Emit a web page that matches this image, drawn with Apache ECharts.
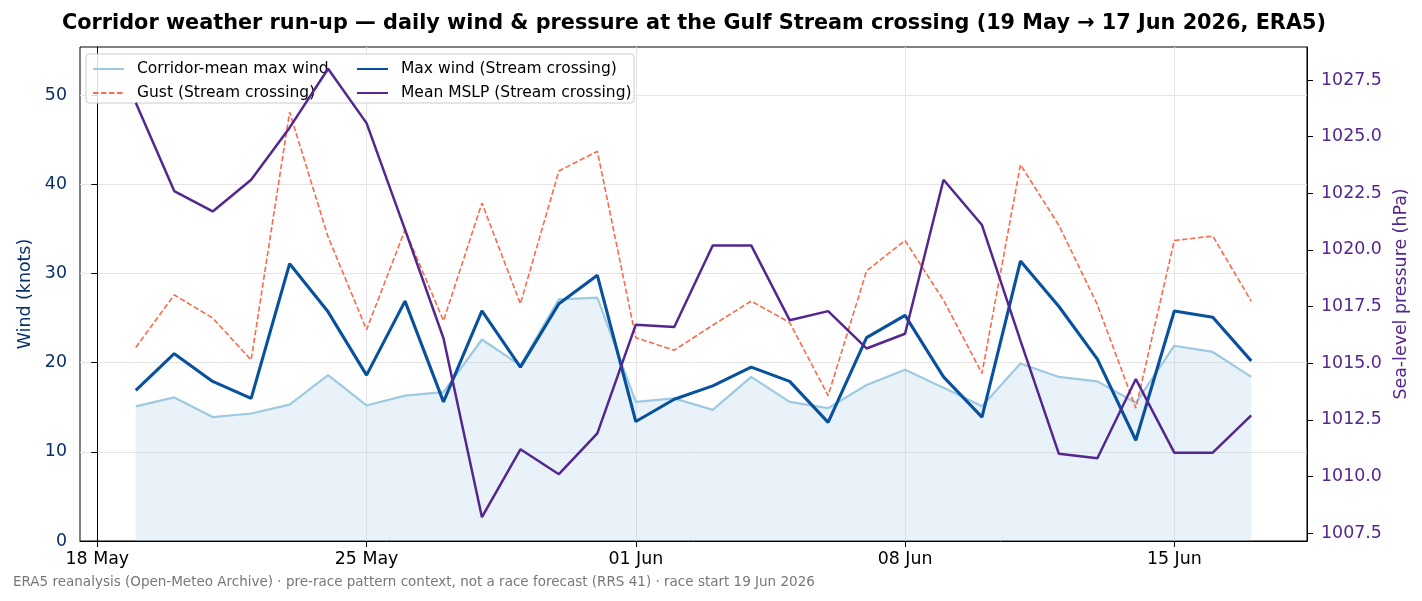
<!DOCTYPE html>
<html>
<head>
<meta charset="utf-8">
<script src="https://cdn.jsdelivr.net/npm/echarts@6/dist/echarts.min.js"></script>
<style>
  html, body { margin: 0; padding: 0; background: #fff; }
  #chart { width: 1422px; height: 601px; }
</style>
</head>
<body>
<div id="chart"></div>
<script>
// daily values, 19 May -> 17 Jun 2026
var dates = ['2026-05-19','2026-05-20','2026-05-21','2026-05-22','2026-05-23','2026-05-24','2026-05-25','2026-05-26','2026-05-27','2026-05-28',
             '2026-05-29','2026-05-30','2026-05-31','2026-06-01','2026-06-02','2026-06-03','2026-06-04','2026-06-05','2026-06-06','2026-06-07',
             '2026-06-08','2026-06-09','2026-06-10','2026-06-11','2026-06-12','2026-06-13','2026-06-14','2026-06-15','2026-06-16','2026-06-17'];
var corridorMax = [15.1, 16.1, 13.9, 14.3, 15.3, 18.6, 15.2, 16.3, 16.7, 22.6,
                   19.7, 27.1, 27.3, 15.6, 16.0, 14.7, 18.4, 15.6, 14.9, 17.5,
                   19.2, 17.2, 15.1, 19.9, 18.4, 17.9, 15.5, 21.9, 21.2, 18.4];
var gust = [21.7, 27.6, 25.0, 20.3, 48.1, 34.1, 23.7, 34.9, 24.7, 37.9,
            26.6, 41.5, 43.7, 22.8, 21.4, 24.2, 26.9, 24.5, 16.3, 30.3,
            33.7, 27.0, 18.8, 42.2, 35.4, 26.5, 14.9, 33.7, 34.2, 26.9];
var maxWind = [16.9, 21.0, 17.9, 16.0, 31.1, 25.7, 18.6, 26.9, 15.6, 25.8,
               19.5, 26.6, 29.8, 13.4, 15.9, 17.4, 19.5, 17.9, 13.3, 22.8,
               25.3, 18.4, 13.9, 31.4, 26.3, 20.4, 11.3, 25.8, 25.1, 20.2];
var mslp = [1026.5, 1022.6, 1021.7, 1023.1, 1025.4, 1028.0, 1025.6, 1020.9, 1016.1, 1008.2,
            1011.2, 1010.1, 1011.9, 1016.7, 1016.6, 1020.2, 1020.2, 1016.9, 1017.3, 1015.65,
            1016.3, 1023.1, 1021.1, 1016.0, 1011.0, 1010.8, 1014.3, 1011.05, 1011.05, 1012.7];

// x axis is "days since 18 May"
var tickDays = [0, 7, 14, 21, 28];
var tickLabels = ['18 May', '25 May', '01 Jun', '08 Jun', '15 Jun'];
var windTicks = [0, 10, 20, 30, 40, 50];
var pressTicks = [1007.5, 1010, 1012.5, 1015, 1017.5, 1020, 1022.5, 1025, 1027.5];

var day0 = Date.parse('2026-05-18');
function pairs(vals) {
    return vals.map(function (v, i) {
        return [(Date.parse(dates[i]) - day0) / 86400000, v];
    });
}

var font = 'DejaVu Sans';
var fs = 17.4;
var chart = echarts.init(document.getElementById('chart'));

var legendBase = {
    orient: 'vertical',
    top: 56,
    itemWidth: 31, itemHeight: 14, itemGap: 8,
    z: 4,
    itemStyle: { opacity: 0 },
    textStyle: { fontFamily: font, fontSize: 15.5, color: '#000', padding: [0, 0, 0, 8] }
};

var option = {
    animation: false,
    textStyle: { fontFamily: font },
    title: [{
        text: 'Corridor weather run-up — daily wind & pressure at the Gulf Stream crossing (19 May → 17 Jun 2026, ERA5)',
        left: 689,
        top: 8,
        textAlign: 'center',
        textStyle: { fontFamily: font, fontSize: 20.8, fontWeight: 'bold', color: '#000' }
    }, {
        text: 'ERA5 reanalysis (Open-Meteo Archive) · pre-race pattern context, not a race forecast (RRS 41) · race start 19 Jun 2026',
        left: 8,
        top: 570,
        textStyle: { fontFamily: font, fontSize: 13.5, fontWeight: 'normal', color: '#777' }
    }],
    graphic: [{
        type: 'rect',
        z: 3,
        shape: { x: 86, y: 54, width: 548, height: 49, r: 3 },
        style: { fill: 'rgba(255,255,255,0.85)', stroke: '#cccccc', lineWidth: 1 }
    }],
    legend: [
        Object.assign({}, legendBase, { left: 87, data: ['Corridor-mean max wind', 'Gust (Stream crossing)'] }),
        Object.assign({}, legendBase, { left: 351, data: ['Max wind (Stream crossing)', 'Mean MSLP (Stream crossing)'] })
    ],
    grid: {
        left: 80, right: 115, top: 47, bottom: 60,
        show: true, borderColor: '#000', borderWidth: 1
    },
    xAxis: {
        type: 'value',
        min: -0.45, max: 31.45,
        axisLine: { lineStyle: { color: '#000' } },
        axisTick: { length: 6, lineStyle: { color: '#000' }, customValues: tickDays },
        axisLabel: {
            customValues: tickDays, fontSize: fs, color: '#000', margin: 10,
            formatter: function (v) { return tickLabels[tickDays.indexOf(v)] || ''; }
        },
        splitLine: { show: true, lineStyle: { color: '#e5e5e5' } }
    },
    yAxis: [{
        type: 'value',
        min: 0, max: 55.4,
        name: 'Wind (knots)',
        nameLocation: 'middle', nameGap: 46,
        nameTextStyle: { fontSize: fs, color: '#08306b' },
        axisLine: { show: true, lineStyle: { color: '#000' } },
        axisTick: { show: true, length: 6, lineStyle: { color: '#000' }, customValues: windTicks },
        axisLabel: { customValues: windTicks, fontSize: fs, color: '#08306b', margin: 13 },
        splitLine: { show: true, lineStyle: { color: '#e5e5e5' } }
    }, {
        type: 'value',
        position: 'right',
        min: 1007.15, max: 1028.96,
        name: 'Sea-level pressure (hPa)',
        nameLocation: 'middle', nameGap: 81,
        nameTextStyle: { fontSize: fs, color: '#54278f' },
        axisLine: { show: true, lineStyle: { color: '#000' } },
        axisTick: { show: true, length: 6, lineStyle: { color: '#000' }, customValues: pressTicks },
        axisLabel: {
            customValues: pressTicks, fontSize: fs, color: '#54278f', margin: 14,
            formatter: function (v) { return v.toFixed(1); }
        },
        splitLine: { show: false }
    }],
    series: [{
        name: 'Corridor-mean max wind',
        type: 'line',
        yAxisIndex: 0,
        symbol: 'none',
        z: 2,
        color: '#9ecae1',
        lineStyle: { color: '#9ecae1', width: 2.2 },
        areaStyle: { color: 'rgba(158,202,225,0.24)', opacity: 1 },
        data: pairs(corridorMax)
    }, {
        name: 'Gust (Stream crossing)',
        type: 'line',
        yAxisIndex: 0,
        symbol: 'none',
        z: 2,
        color: '#fb6a4a',
        lineStyle: { color: '#fb6a4a', width: 1.6, type: [5.5, 2.5] },
        data: pairs(gust)
    }, {
        name: 'Max wind (Stream crossing)',
        type: 'line',
        yAxisIndex: 0,
        symbol: 'none',
        z: 2,
        color: '#08519c',
        lineStyle: { color: '#08519c', width: 3.1 },
        data: pairs(maxWind)
    }, {
        name: 'Mean MSLP (Stream crossing)',
        type: 'line',
        yAxisIndex: 1,
        symbol: 'none',
        z: 10,
        color: '#54278f',
        lineStyle: { color: '#54278f', width: 2.5 },
        data: pairs(mslp)
    }]
};

chart.setOption(option);
</script>
</body>
</html>
